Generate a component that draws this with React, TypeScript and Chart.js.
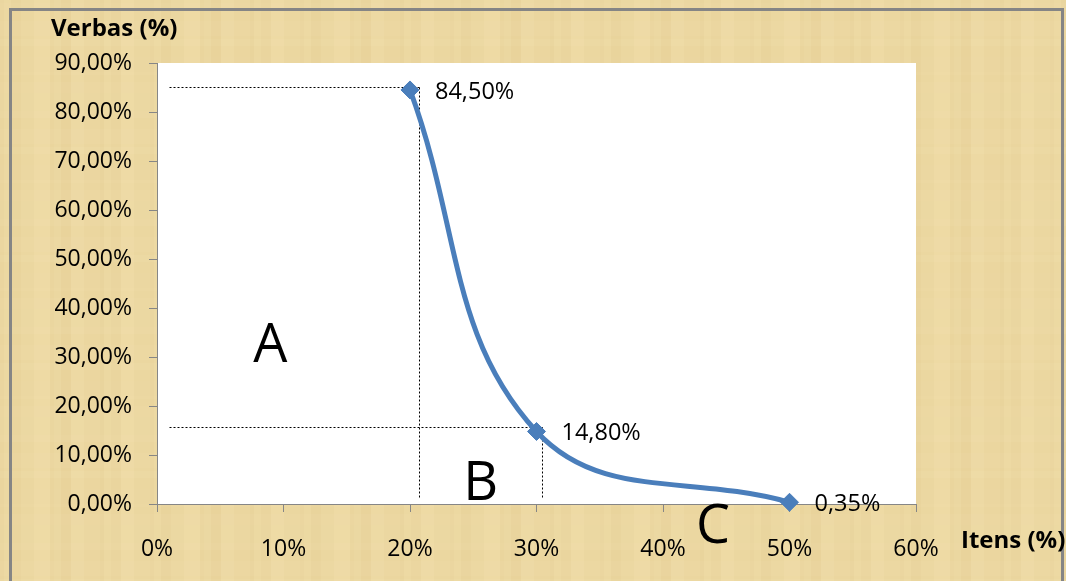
import React, { useEffect, useRef } from "react";
import { Chart, registerables } from "chart.js";

Chart.register(...registerables);

// ---- data ----
const itensPct = [20, 30, 50];
const verbasPct = [84.5, 14.8, 0.35];
const pointLabels = ["84,50%", "14,80%", "0,35%"];

const xTicks = [0, 10, 20, 30, 40, 50, 60];
const yTicks = [0, 10, 20, 30, 40, 50, 60, 70, 80, 90];

const yTitle = "Verbas (%)";
const xTitle = "Itens (%)";

// dotted guide lines [x1, y1, x2, y2] in data units
const guideLines = [
  [0.95, 85.1, 20.7, 85.1],
  [20.7, 85.1, 20.7, 1.4],
  [0.95, 15.7, 30.4, 15.7],
  [30.4, 15.7, 30.4, 1.4],
];

// region letters [text, x, y(baseline)] in data units
const regionLetters: [string, number, number][] = [
  ["A", 7.6, 29.0],
  ["B", 24.2, 0.9],
  ["C", 42.6, -8.0],
];

const stripeA = [0.05, 0.02, 0.07, 0.03, 0.0, 0.06, 0.03, 0.08, 0.01, 0.04, 0.07, 0.02, 0.05, 0.0, 0.03];
const stripeB = [0.03, 0.07, 0.01, 0.05, 0.02, 0.08, 0.0, 0.04, 0.06, 0.02, 0.05, 0.03];

const FONT = "'Open Sans', 'Noto Sans', sans-serif";

const decorPlugin = {
  id: "decor",
  beforeDraw(chart: any) {
    const { ctx, width, height, chartArea } = chart;
    ctx.save();
    ctx.fillStyle = "rgb(238,218,164)";
    ctx.fillRect(0, 0, width, height);
    // texture stripes
    let x = 0;
    let i = 0;
    while (x < width) {
      const w = 4 + (i % 5) * 3;
      ctx.fillStyle = `rgba(175,135,55,${stripeA[i % stripeA.length]})`;
      ctx.fillRect(x, 0, w, height);
      x += w;
      i++;
    }
    let y = 0;
    i = 0;
    while (y < height) {
      const h = 3 + (i % 4) * 4;
      ctx.fillStyle = `rgba(255,240,210,${stripeB[i % stripeB.length]})`;
      ctx.fillRect(0, y, width, h);
      y += h;
      i++;
    }
    // frame
    ctx.strokeStyle = "#858585";
    ctx.lineWidth = 3;
    ctx.strokeRect(10.5, 9.5, 1052, 600);
    // plot area
    ctx.fillStyle = "#ffffff";
    ctx.fillRect(chartArea.left, chartArea.top, chartArea.right - chartArea.left, chartArea.bottom - chartArea.top);
    ctx.restore();
  },
  beforeDatasetsDraw(chart: any) {
    const { ctx } = chart;
    const xs = chart.scales.x;
    const ys = chart.scales.y;
    ctx.save();
    ctx.strokeStyle = "#000";
    ctx.lineWidth = 1;
    ctx.setLineDash([2, 2]);
    guideLines.forEach(([x1, y1, x2, y2]) => {
      ctx.beginPath();
      ctx.moveTo(Math.round(xs.getPixelForValue(x1)) + 0.5, Math.round(ys.getPixelForValue(y1)) + 0.5);
      ctx.lineTo(Math.round(xs.getPixelForValue(x2)) + 0.5, Math.round(ys.getPixelForValue(y2)) + 0.5);
      ctx.stroke();
    });
    ctx.restore();
  },
  afterDraw(chart: any) {
    const { ctx } = chart;
    const xs = chart.scales.x;
    const ys = chart.scales.y;
    ctx.save();
    ctx.fillStyle = "#000";
    // point labels
    ctx.font = `23.5px ${FONT}`;
    ctx.textAlign = "left";
    ctx.textBaseline = "middle";
    const meta = chart.getDatasetMeta(0);
    meta.data.forEach((pt: any, idx: number) => {
      ctx.fillText(pointLabels[idx], pt.x + 25, pt.y + 2);
    });
    // region letters
    ctx.font = `54px ${FONT}`;
    ctx.textAlign = "left";
    ctx.textBaseline = "alphabetic";
    regionLetters.forEach(([t, vx, vy]) => {
      ctx.fillText(t, xs.getPixelForValue(vx), ys.getPixelForValue(vy));
    });
    // axis titles
    ctx.font = `bold 24px ${FONT}`;
    ctx.textAlign = "left";
    ctx.textBaseline = "alphabetic";
    ctx.fillText(yTitle, 51, 36);
    ctx.fillText(xTitle, 961, 548);
    ctx.restore();
  },
};

export default function App() {
  const ref = useRef<HTMLCanvasElement | null>(null);
  useEffect(() => {
    if (!ref.current) return;
    const chart = new Chart(ref.current, {
      type: "line",
      data: {
        datasets: [
          {
            data: itensPct.map((v, i) => ({ x: v, y: verbasPct[i] })),
            borderColor: "rgb(74,126,187)",
            backgroundColor: "rgb(74,126,187)",
            borderWidth: 5,
            pointStyle: "rectRot",
            pointRadius: 9,
            pointBorderWidth: 1,
            pointBorderColor: "rgb(74,126,187)",
            pointBackgroundColor: "rgb(74,126,187)",
            tension: 0.4,
            fill: false,
            clip: false,
          },
        ],
      },
      options: {
        responsive: false,
        maintainAspectRatio: false,
        animation: false,
        layout: { padding: { top: 63, right: 150, left: 0, bottom: 0 } },
        plugins: { legend: { display: false }, tooltip: { enabled: false } },
        scales: {
          x: {
            type: "linear",
            min: 0,
            max: 60,
            afterBuildTicks: (s: any) => {
              s.ticks = xTicks.map((v) => ({ value: v }));
            },
            afterFit: (s: any) => {
              s.height = 77;
            },
            grid: { drawOnChartArea: false, color: "#868686", tickLength: 8 },
            border: { color: "#868686", width: 1 },
            ticks: {
              color: "#000",
              font: { family: FONT, size: 23 },
              padding: 24,
              maxRotation: 0,
              autoSkip: false,
              callback: (v: any) => `${v}%`,
            },
          },
          y: {
            type: "linear",
            min: 0,
            max: 90,
            afterBuildTicks: (s: any) => {
              s.ticks = yTicks.map((v) => ({ value: v }));
            },
            afterFit: (s: any) => {
              s.width = 157;
            },
            grid: { drawOnChartArea: false, color: "#868686", tickLength: 8 },
            border: { color: "#868686", width: 1 },
            ticks: {
              color: "#000",
              font: { family: FONT, size: 23 },
              padding: 17,
              autoSkip: false,
              callback: (v: any) => `${Number(v).toFixed(2).replace(".", ",")}%`,
            },
          },
        },
      },
      plugins: [decorPlugin],
    } as any);
    return () => chart.destroy();
  }, []);
  return (
    <div style={{ position: "fixed", left: 0, top: 0, width: 1066, height: 581 }}>
      <canvas ref={ref} width={1066} height={581} style={{ width: 1066, height: 581, display: "block" }} />
    </div>
  );
}
